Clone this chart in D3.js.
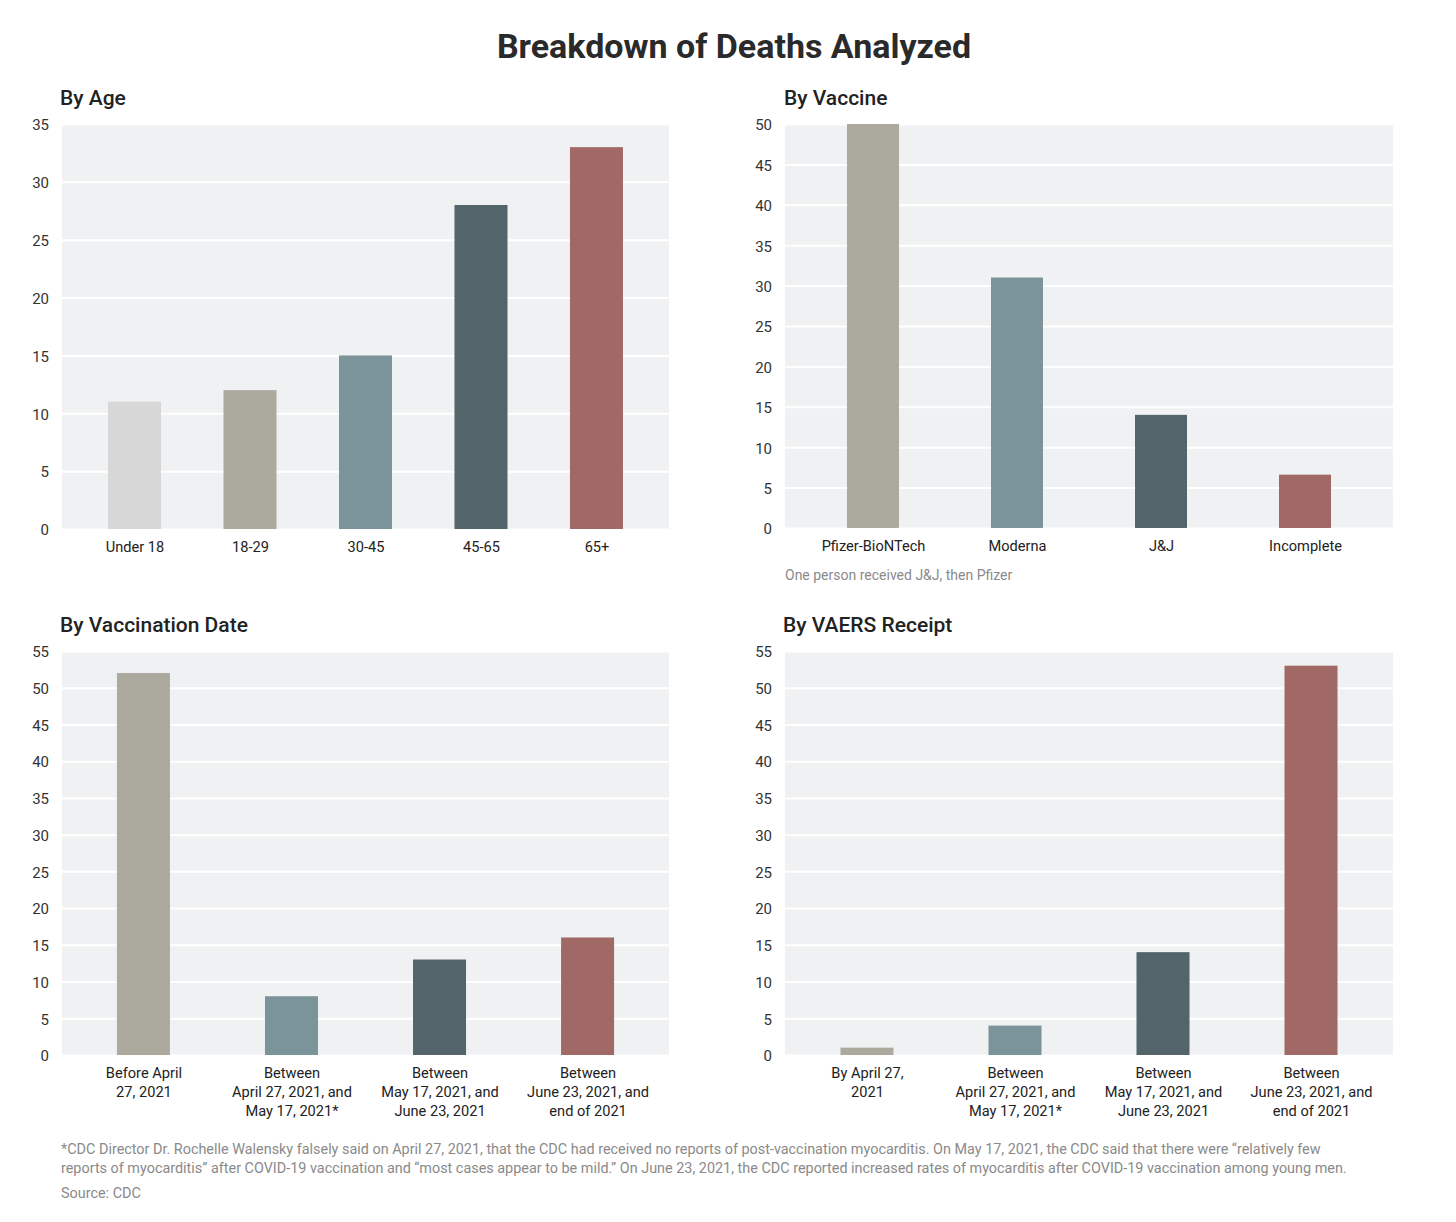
<!DOCTYPE html>
<html>
<head>
<meta charset="utf-8">
<script src="https://cdn.jsdelivr.net/npm/d3@7/dist/d3.min.js"></script>
<style>
  html, body { margin: 0; padding: 0; background: #fff; }
  svg { display: block; font-family: Roboto, "Noto Sans", sans-serif; }
</style>
</head>
<body>
<svg id="chart" width="1456" height="1222"></svg>
<script>
// ---------- DATA ----------
const mainTitle = "Breakdown of Deaths Analyzed";

const ageTitle = "By Age";
const ageCategories = ["Under 18", "18-29", "30-45", "45-65", "65+"];
const ageValues = [11, 12, 15, 28, 33];
const ageTicks = [0, 5, 10, 15, 20, 25, 30, 35];

const vaccineTitle = "By Vaccine";
const vaccineCategories = ["Pfizer-BioNTech", "Moderna", "J&J", "Incomplete"];
const vaccineValues = [50, 31, 14, 6.6];
const vaccineTicks = [0, 5, 10, 15, 20, 25, 30, 35, 40, 45, 50];
const vaccineNote = "One person received J&J, then Pfizer";

const dateTitle = "By Vaccination Date";
const dateCategories = [
  "Before April\n27, 2021",
  "Between\nApril 27, 2021, and\nMay 17, 2021*",
  "Between\nMay 17, 2021, and\nJune 23, 2021",
  "Between\nJune 23, 2021, and\nend of 2021"
];
const dateValues = [52, 8, 13, 16];
const dateTicks = [0, 5, 10, 15, 20, 25, 30, 35, 40, 45, 50, 55];

const receiptTitle = "By VAERS Receipt";
const receiptCategories = [
  "By April 27,\n2021",
  "Between\nApril 27, 2021, and\nMay 17, 2021*",
  "Between\nMay 17, 2021, and\nJune 23, 2021",
  "Between\nJune 23, 2021, and\nend of 2021"
];
const receiptValues = [1, 4, 14, 53];
const receiptTicks = [0, 5, 10, 15, 20, 25, 30, 35, 40, 45, 50, 55];

const ageColors = ["#d7d7d7", "#aca99f", "#7a9499", "#53646b", "#a06966"];
const fourColors = ["#aca99f", "#7a9499", "#53646b", "#a06966"];

const footnoteLines = [
  "*CDC Director Dr. Rochelle Walensky falsely said on April 27, 2021, that the CDC had received no reports of post-vaccination myocarditis. On May 17, 2021, the CDC said that there were \u201crelatively few",
  "reports of myocarditis\u201d after COVID-19 vaccination and \u201cmost cases appear to be mild.\u201d On June 23, 2021, the CDC reported increased rates of myocarditis after COVID-19 vaccination among young men."
];
const sourceText = "Source: CDC";

// ---------- DRAW ----------
const svg = d3.select("#chart");

svg.append("text")
  .attr("x", 734).attr("y", 58)
  .attr("text-anchor", "middle")
  .attr("font-size", 34).attr("font-weight", 700)
  .attr("fill", "#2a2a2a")
  .text(mainTitle);

function panel(opt) {
  const g = svg.append("g");
  const { x0, x1, y0, y1, categories, values, ticks, colors, title, pad, barW } = opt;

  g.append("text")
    .attr("x", opt.titleX).attr("y", opt.titleY)
    .attr("font-size", 21).attr("font-weight", 500)
    .attr("fill", "#222")
    .text(title);

  const x = d3.scalePoint().domain(categories).range([x0, x1]).padding(pad);
  const y = d3.scaleLinear().domain([0, d3.max(ticks)]).range([y1, y0]);

  g.append("rect")
    .attr("x", x0).attr("y", y0)
    .attr("width", x1 - x0).attr("height", y1 - y0)
    .attr("fill", "#f0f1f2");

  // gridlines
  const grid = g.append("g")
    .attr("transform", `translate(${x0},0)`)
    .call(d3.axisLeft(y).tickValues(ticks).tickSize(-(x1 - x0)).tickFormat(""));
  grid.select(".domain").remove();
  grid.selectAll(".tick line").attr("stroke", "#ffffff").attr("stroke-width", 2);

  // y labels
  const ya = g.append("g")
    .attr("transform", `translate(${x0 - 13},1)`)
    .call(d3.axisLeft(y).tickValues(ticks).tickSize(0).tickPadding(0));
  ya.select(".domain").remove();
  ya.selectAll("text")
    .attr("font-family", "Roboto, sans-serif")
    .attr("font-size", 15).attr("fill", "#333");

  // bars
  g.selectAll("rect.bar")
    .data(categories.map((c, i) => ({ c, v: values[i], col: colors[i] })))
    .join("rect")
    .attr("class", "bar")
    .attr("x", d => x(d.c) - barW / 2)
    .attr("width", barW)
    .attr("y", d => y(d.v))
    .attr("height", d => y(0) - y(d.v))
    .attr("fill", d => d.col);

  // x labels
  const xa = g.append("g")
    .attr("transform", `translate(0,${y1})`)
    .call(d3.axisBottom(x).tickSize(0).tickPadding(0));
  xa.select(".domain").remove();
  xa.selectAll(".tick text").each(function (d) {
    const t = d3.select(this);
    t.text(null).attr("y", 0).attr("dy", null)
      .attr("font-family", "Roboto, sans-serif")
      .attr("font-size", 14.6).attr("fill", "#222");
    d.split("\n").forEach((line, i) => {
      t.append("tspan").attr("x", 0).attr("y", 23 + i * 19).text(line);
    });
  });
  return g;
}

panel({
  x0: 62, x1: 669, y0: 124, y1: 529, pad: 0.628, barW: 53,
  categories: ageCategories, values: ageValues, ticks: ageTicks, colors: ageColors,
  title: ageTitle, titleX: 60, titleY: 105
});

panel({
  x0: 785, x1: 1393, y0: 124, y1: 528, pad: 0.611, barW: 52,
  categories: vaccineCategories, values: vaccineValues, ticks: vaccineTicks, colors: fourColors,
  title: vaccineTitle, titleX: 784, titleY: 105
});

svg.append("text")
  .attr("x", 785).attr("y", 580)
  .attr("font-size", 14).attr("fill", "#8a8a8a")
  .text(vaccineNote);

panel({
  x0: 62, x1: 669, y0: 651, y1: 1055, pad: 0.55, barW: 53,
  categories: dateCategories, values: dateValues, ticks: dateTicks, colors: fourColors,
  title: dateTitle, titleX: 60, titleY: 632
});

panel({
  x0: 785, x1: 1393, y0: 651, y1: 1055, pad: 0.554, barW: 53,
  categories: receiptCategories, values: receiptValues, ticks: receiptTicks, colors: fourColors,
  title: receiptTitle, titleX: 783, titleY: 632
});

const fn = svg.append("g").attr("font-size", 14.4).attr("fill", "#8a8a8a");
footnoteLines.forEach((line, i) => {
  fn.append("text").attr("x", 61).attr("y", 1154 + i * 19).text(line);
});
fn.append("text").attr("x", 61).attr("y", 1198).text(sourceText);
</script>
</body>
</html>
